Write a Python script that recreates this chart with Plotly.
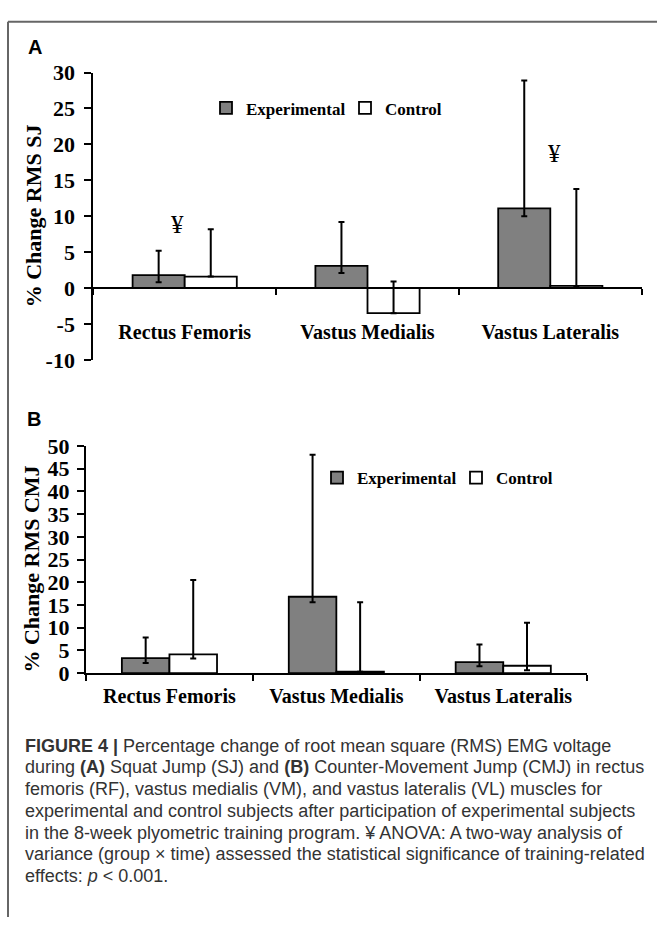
import plotly.graph_objects as go

# ---------------- data ----------------
categories = ["Rectus Femoris", "Vastus Medialis", "Vastus Lateralis"]

# Panel A: % change RMS SJ
sj_exp = [1.8, 3.1, 11.1]
sj_exp_err_plus = [3.4, 6.1, 17.8]
sj_exp_err_minus = [1.0, 1.0, 1.1]
sj_ctrl = [1.6, -3.5, 0.3]
sj_ctrl_err_plus = [6.6, 4.4, 13.5]
sj_ctrl_err_minus = [0.0, 0.0, 0.0]

# Panel B: % change RMS CMJ
cmj_exp = [3.3, 16.8, 2.4]
cmj_exp_err_plus = [4.5, 31.3, 3.9]
cmj_exp_err_minus = [1.1, 1.2, 0.9]
cmj_ctrl = [4.1, 0.3, 1.6]
cmj_ctrl_err_plus = [16.4, 15.3, 9.5]
cmj_ctrl_err_minus = [0.9, 0.0, 1.0]

# y tick labels
sj_ticks = [-10, -5, 0, 5, 10, 15, 20, 25, 30]
sj_ticktext = ["-10", "-5", "0", "5", "10", "15", "20", "25", "30"]
cmj_ticks = [0, 5, 10, 15, 20, 25, 30, 35, 40, 45, 50]
cmj_ticktext = ["0", "5", "10", "15", "20", "25", "30", "35", "40", "45", "50"]

# significance markers (panel A): category position offset, y value
sig_x = [-0.037, 2.023]
sig_y = [8.8, 18.7]

caption_lines = [
    "<b>FIGURE 4 |</b> Percentage change of root mean square (RMS) EMG voltage",
    "during <b>(A)</b> Squat Jump (SJ) and <b>(B)</b> Counter-Movement Jump (CMJ) in rectus",
    "femoris (RF), vastus medialis (VM), and vastus lateralis (VL) muscles for",
    "experimental and control subjects after participation of experimental subjects",
    "in the 8-week plyometric training program. \u00a5 ANOVA: A two-way analysis of",
    "variance (group \u00d7 time) assessed the statistical significance of training-related",
    "effects: <i>p</i> &lt; 0.001.",
]

# ---------------- style ----------------
W, H = 657, 930
SERIF = "Liberation Serif, Times New Roman, serif"
SANS = "Liberation Sans, Arial, Helvetica, sans-serif"
GRAY = "#808080"


def px(x):
    return x / W


def py(y):
    return 1 - y / H


fig = go.Figure()


def add_pair(exp, ep, em, ctrl, cp, cm, xa, ya, leg):
    fig.add_trace(go.Bar(
        x=categories, y=exp, name="Experimental",
        marker=dict(color=GRAY, line=dict(color="black", width=1.8)),
        error_y=dict(type="data", symmetric=False, array=ep, arrayminus=em,
                     color="black", thickness=2, width=3),
        xaxis=xa, yaxis=ya, legend=leg,
    ))
    fig.add_trace(go.Bar(
        x=categories, y=ctrl, name="Control",
        marker=dict(color="white", line=dict(color="black", width=1.8)),
        error_y=dict(type="data", symmetric=False, array=cp, arrayminus=cm,
                     color="black", thickness=2, width=3),
        xaxis=xa, yaxis=ya, legend=leg,
    ))


add_pair(sj_exp, sj_exp_err_plus, sj_exp_err_minus,
         sj_ctrl, sj_ctrl_err_plus, sj_ctrl_err_minus, "x", "y", "legend")
add_pair(cmj_exp, cmj_exp_err_plus, cmj_exp_err_minus,
         cmj_ctrl, cmj_ctrl_err_plus, cmj_ctrl_err_minus, "x2", "y2", "legend2")

ytickfont = dict(family=SERIF, size=22, color="black", weight="bold")
xtickfont = dict(family=SERIF, size=20, color="black", weight="bold")
legfont = dict(family=SERIF, size=17, color="black", weight="bold")

# Panel A geometry
A_top, A_bot, A_left, A_right = 62.2, 357.5, 93.3, 641.7
A_ymin, A_ymax = -10, 30
A_zero_frac = (0 - A_ymin) / (A_ymax - A_ymin)
A_dom = [py(A_bot), py(A_top)]
A_xpos = A_dom[0] + (A_dom[1] - A_dom[0]) * A_zero_frac

# Panel B geometry
B_top, B_bot, B_left, B_right = 446.0, 679.3, 86.0, 586.7

axis_common = dict(showline=True, linecolor="black", linewidth=2, ticks="outside",
                   tickcolor="black", tickwidth=2, showgrid=False, zeroline=False)

fig.update_layout(
    width=W, height=H,
    margin=dict(l=0, r=0, t=0, b=0),
    paper_bgcolor="white", plot_bgcolor="white",
    barmode="group", bargap=0.43, bargroupgap=0,
    xaxis=dict(domain=[px(A_left), px(A_right)], type="category", anchor="free",
               position=A_xpos, tickson="boundaries", ticklen=6,
               tickfont=xtickfont, ticklabelstandoff=26, **axis_common),
    yaxis=dict(domain=A_dom, range=[A_ymin, A_ymax], tickvals=sj_ticks,
               ticktext=sj_ticktext, anchor="x", ticklen=7, tickfont=ytickfont,
               ticklabelstandoff=5, **axis_common),
    xaxis2=dict(domain=[px(B_left), px(B_right)], type="category", anchor="y2",
                tickson="boundaries", ticklen=6, tickfont=xtickfont,
                ticklabelstandoff=4, **axis_common),
    yaxis2=dict(domain=[py(B_bot), py(B_top)], range=[0, 50], tickvals=cmj_ticks,
                ticktext=cmj_ticktext, anchor="x2", ticklen=7, tickfont=ytickfont,
                ticklabelstandoff=3, **axis_common),
    legend=dict(x=px(206), y=py(99), xanchor="left", yanchor="middle",
                orientation="h", bgcolor="rgba(0,0,0,0)", traceorder="normal",
                entrywidth=94, font=legfont),
    legend2=dict(x=px(317), y=py(479), xanchor="left", yanchor="middle",
                 orientation="h", bgcolor="rgba(0,0,0,0)", traceorder="normal",
                 entrywidth=94, font=legfont),
    showlegend=True,
)

annotations = []
# panel letters
annotations.append(dict(text="<b>A</b>", x=px(26), y=py(36), xref="paper", yref="paper",
                        xanchor="left", yanchor="middle", showarrow=False,
                        font=dict(family=SANS, size=20, color="black")))
annotations.append(dict(text="<b>B</b>", x=px(25), y=py(418), xref="paper", yref="paper",
                        xanchor="left", yanchor="middle", showarrow=False,
                        font=dict(family=SANS, size=20, color="black")))
# y-axis titles
annotations.append(dict(text="<b>% Change RMS SJ</b>", x=px(33), y=py(210),
                        xref="paper", yref="paper", textangle=-90, showarrow=False,
                        xanchor="center", yanchor="middle",
                        font=dict(family=SERIF, size=22, color="black")))
annotations.append(dict(text="<b>% Change RMS CMJ</b>", x=px(32), y=py(573),
                        xref="paper", yref="paper", textangle=-90, showarrow=False,
                        xanchor="center", yanchor="middle",
                        font=dict(family=SERIF, size=22, color="black")))
# significance markers
for sx, sy in zip(sig_x, sig_y):
    annotations.append(dict(text="\u00a5", x=sx, y=sy, xref="x", yref="y", showarrow=False,
                            xanchor="center", yanchor="middle",
                            font=dict(family=SERIF, size=25, color="black")))
# caption
for i, line in enumerate(caption_lines):
    annotations.append(dict(text=line, x=px(23), y=py(754 + 22.3 * i), xref="paper", yref="paper",
                            xanchor="left", yanchor="middle", showarrow=False,
                            font=dict(family=SANS, size=18, color="#333333")))
fig.update_layout(annotations=annotations)

# frame around the figure
fig.update_layout(shapes=[
    dict(type="line", xref="paper", yref="paper", x0=px(8), x1=1, y0=py(10), y1=py(10),
         line=dict(color="#666666", width=2)),
    dict(type="line", xref="paper", yref="paper", x0=px(8), x1=px(8), y0=py(10), y1=0,
         line=dict(color="#666666", width=2)),
])

fig.write_html("out.html")
